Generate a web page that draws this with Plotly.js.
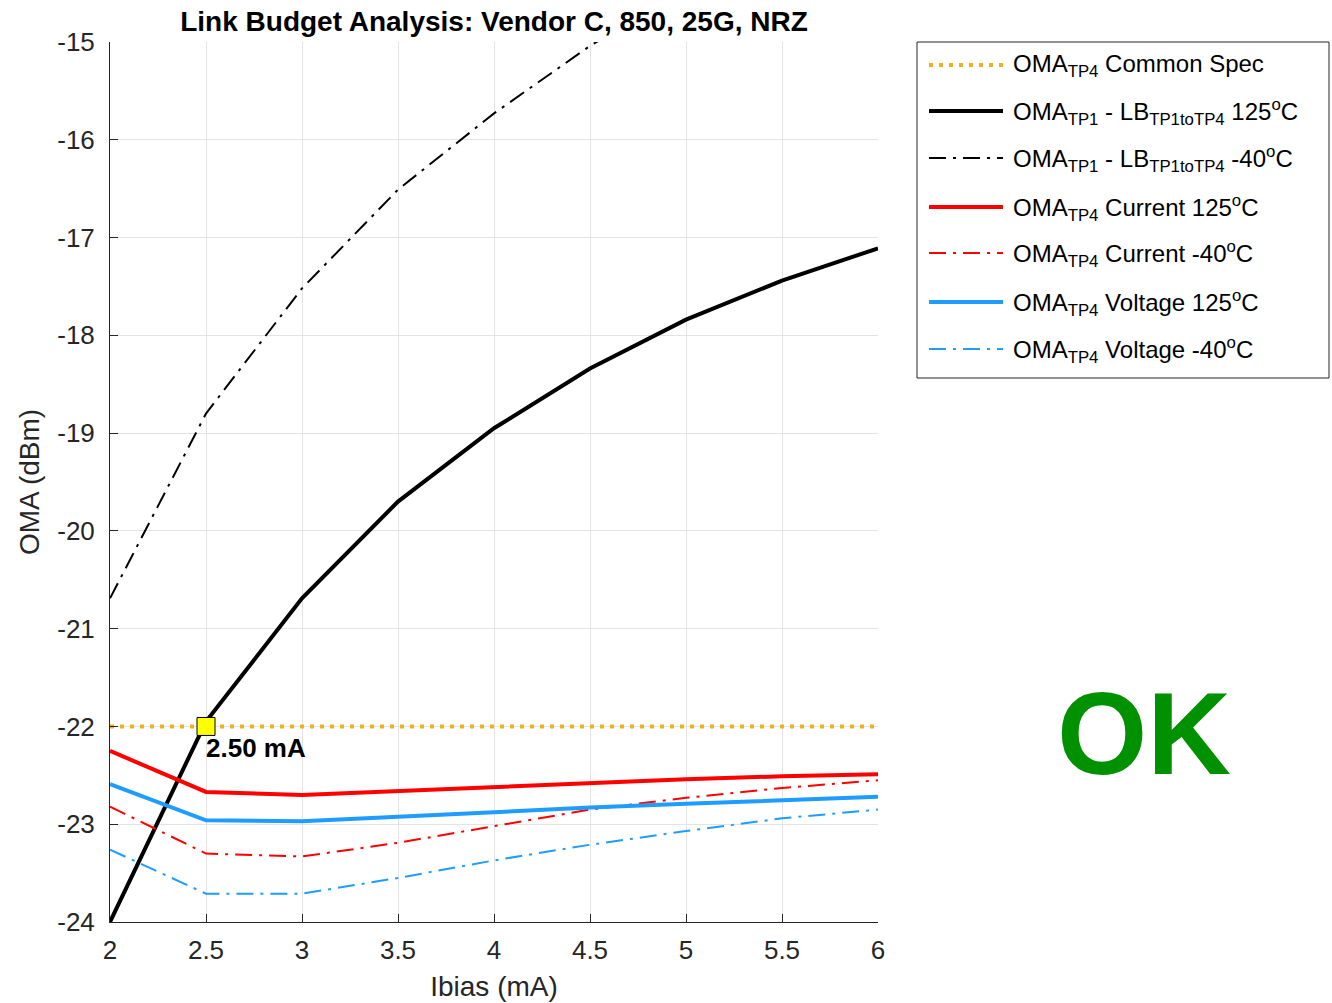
<!DOCTYPE html>
<html>
<head>
<meta charset="utf-8">
<script src="https://cdn.plot.ly/plotly-3.0.1.min.js"></script>
<style>html,body{margin:0;padding:0;background:#fff;}#chart{width:1332px;height:1003px;}</style>
</head>
<body>
<div id="chart"></div>
<script>
// ---- data ----
const ibias = [2, 2.5, 3, 3.5, 4, 4.5, 5, 5.5, 6];
const specCommon = [-22, -22, -22, -22, -22, -22, -22, -22, -22];
const lb125 = [-24.0, -21.95, -20.69, -19.70, -18.95, -18.34, -17.84, -17.44, -17.11];
const lbM40 = [-20.69, -18.80, -17.52, -16.51, -15.73, -15.04, -14.45, -13.95, -13.50];
const current125 = [-22.25, -22.67, -22.70, -22.66, -22.62, -22.57, -22.54, -22.51, -22.49];
const currentM40 = [-22.82, -23.30, -23.33, -23.19, -23.02, -22.85, -22.73, -22.63, -22.55];
const voltage125 = [-22.59, -22.96, -22.97, -22.92, -22.87, -22.83, -22.79, -22.75, -22.72];
const voltageM40 = [-23.26, -23.71, -23.71, -23.55, -23.37, -23.21, -23.07, -22.94, -22.85];
const crossX = [2.5];
const crossY = [-22];
const crossLabel = '2.50 mA';
const xTicks = [2, 2.5, 3, 3.5, 4, 4.5, 5, 5.5, 6];
const yTicks = [-24, -23, -22, -21, -20, -19, -18, -17, -16, -15];
const seriesNames = [
  'OMA<sub>TP4</sub> Common Spec',
  'OMA<sub>TP1</sub> - LB<sub>TP1toTP4</sub> 125<sup>o</sup>C',
  'OMA<sub>TP1</sub> - LB<sub>TP1toTP4</sub> -40<sup>o</sup>C',
  'OMA<sub>TP4</sub> Current 125<sup>o</sup>C',
  'OMA<sub>TP4</sub> Current -40<sup>o</sup>C',
  'OMA<sub>TP4</sub> Voltage 125<sup>o</sup>C',
  'OMA<sub>TP4</sub> Voltage -40<sup>o</sup>C'
];
const seriesValues = [specCommon, lb125, lbM40, current125, currentM40, voltage125, voltageM40];

// ---- styles ----
const FONT = 'Liberation Sans, Arial, Helvetica, sans-serif';
const DASHDOT = '17px,7px,3px,7px';
const styles = [
  {color: '#EDB120', width: 4, dash: '4px,6px'},
  {color: '#000000', width: 4, dash: 'solid'},
  {color: '#000000', width: 2, dash: DASHDOT},
  {color: '#FF0000', width: 4, dash: 'solid'},
  {color: '#FF0000', width: 2, dash: DASHDOT},
  {color: '#1F9CFF', width: 4, dash: 'solid'},
  {color: '#1F9CFF', width: 2, dash: DASHDOT}
];

// plot area in pixels
const L = 110, R = 878, T = 42, B = 922;
const px2x = p => (p - L) / (R - L);
const px2y = p => (B - p) / (B - T);

const traces = seriesValues.map((vals, i) => ({
  type: 'scatter', mode: 'lines', x: ibias, y: vals, name: seriesNames[i],
  line: {color: styles[i].color, width: styles[i].width, dash: styles[i].dash},
  showlegend: false, hoverinfo: 'skip'
}));
traces.push({
  type: 'scatter', mode: 'markers', x: crossX, y: crossY, showlegend: false,
  marker: {symbol: 'square', size: 18, color: '#FFFF00', line: {color: '#000000', width: 1}},
  cliponaxis: false, hoverinfo: 'skip'
});

// manual legend
const rowY = [65, 111, 158, 207, 253, 302, 349];
const shapes = [{
  type: 'rect', xref: 'paper', yref: 'paper',
  x0: px2x(917), x1: px2x(1329), y0: px2y(42), y1: px2y(378),
  line: {color: '#262626', width: 1}, fillcolor: 'rgba(0,0,0,0)'
}];
const annotations = [];
seriesNames.forEach((n, i) => {
  shapes.push({
    type: 'line', xref: 'paper', yref: 'paper',
    x0: px2x(929), x1: px2x(1003), y0: px2y(rowY[i]), y1: px2y(rowY[i]),
    line: {color: styles[i].color, width: styles[i].width, dash: styles[i].dash}
  });
  annotations.push({
    xref: 'paper', yref: 'paper', x: px2x(1011), y: px2y(rowY[i] + 1),
    xanchor: 'left', yanchor: 'middle', showarrow: false, text: n,
    font: {family: FONT, size: 24, color: '#000000'}
  });
});
annotations.push({
  x: crossX[0], y: crossY[0], xref: 'x', yref: 'y', xanchor: 'left', yanchor: 'top',
  xshift: -2, yshift: -5, showarrow: false, text: '<b>' + crossLabel + '</b>',
  font: {family: FONT, size: 26, color: '#000000'}
});
annotations.push({
  xref: 'paper', yref: 'paper', x: px2x(1144), y: px2y(734), xanchor: 'center', yanchor: 'middle',
  showarrow: false, text: '<b>OK</b>', font: {family: FONT, size: 116, color: '#009100'}
});

const layout = {
  width: 1332, height: 1003,
  margin: {l: L, r: 1332 - R, t: T, b: 1003 - B, pad: 0},
  paper_bgcolor: '#ffffff', plot_bgcolor: '#ffffff',
  showlegend: false,
  title: {
    text: '<b>Link Budget Analysis: Vendor C, 850, 25G, NRZ</b>',
    font: {family: FONT, size: 28, color: '#000000'},
    xref: 'paper', x: 0.5, xanchor: 'center', yref: 'container', y: 1 - 21 / 1003, yanchor: 'middle'
  },
  xaxis: {
    range: [2, 6], tickvals: xTicks, ticktext: xTicks.map(String),
    ticks: 'inside', ticklen: 8, tickwidth: 1, tickcolor: '#262626',
    showline: true, linecolor: '#262626', linewidth: 1, mirror: false,
    showgrid: true, gridcolor: '#e3e3e3', gridwidth: 1, zeroline: false,
    tickfont: {family: FONT, size: 26, color: '#262626'}, ticklabelstandoff: 5,
    title: {text: 'Ibias (mA)', font: {family: FONT, size: 28, color: '#262626'}, standoff: 12},
    fixedrange: true
  },
  yaxis: {
    range: [-24, -15], tickvals: yTicks, ticktext: yTicks.map(String),
    ticks: 'inside', ticklen: 8, tickwidth: 1, tickcolor: '#262626',
    showline: true, linecolor: '#262626', linewidth: 1, mirror: false,
    showgrid: true, gridcolor: '#e3e3e3', gridwidth: 1, zeroline: false,
    tickfont: {family: FONT, size: 26, color: '#262626'}, ticklabelstandoff: 9,
    title: {text: 'OMA (dBm)', font: {family: FONT, size: 28, color: '#262626'}, standoff: 9},
    fixedrange: true
  },
  shapes: shapes,
  annotations: annotations
};

Plotly.newPlot('chart', traces, layout, {displayModeBar: false, staticPlot: true});
</script>
</body>
</html>
